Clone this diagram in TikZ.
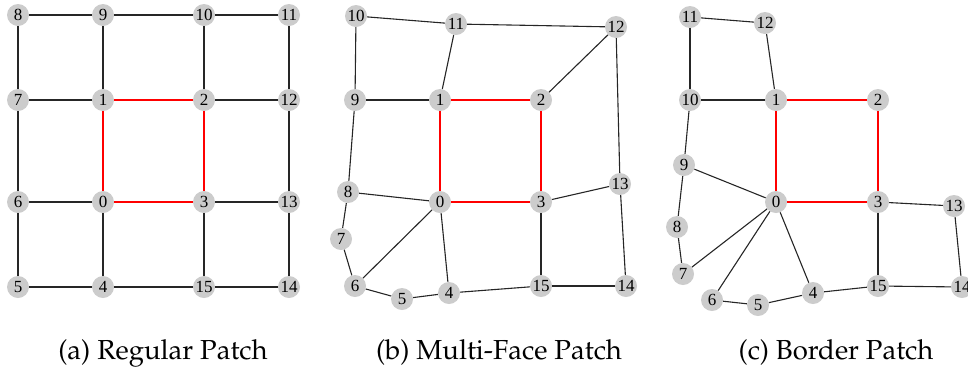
\documentclass[tikz,border=0pt]{standalone}
\usepackage[T1]{fontenc}
\usepackage{fontspec}
\newfontfamily\numfont{Liberation Serif}
\tikzset{
  vtx/.style={circle, fill={rgb,255:red,204;green,204;blue,204}, minimum size=22pt,
              inner sep=0pt, font=\numfont\fontsize{17}{17}\selectfont},
  edge/.style={line width=1.1pt, black!85},
  redge/.style={line width=2pt, red},
  subcap/.style={anchor=base, inner sep=0pt,
                 font=\fontencoding{T1}\fontfamily{ppl}\fontsize{27.5}{30}\selectfont}
}
\begin{document}
\begin{tikzpicture}[x=1pt, y=-1pt]
\useasboundingbox (0,0) rectangle (968,368);

% ---------- (a) regular patch ----------
\node[vtx] (a8)  at (18,15)  {8};
\node[vtx] (a9)  at (103,15) {9};
\node[vtx] (a10) at (204,15) {10};
\node[vtx] (a11) at (289,15) {11};
\node[vtx] (a7)  at (18,100)  {7};
\node[vtx] (a1)  at (103,100) {1};
\node[vtx] (a2)  at (204,100) {2};
\node[vtx] (a12) at (289,100) {12};
\node[vtx] (a6)  at (18,202)  {6};
\node[vtx] (a0)  at (103,202) {0};
\node[vtx] (a3)  at (204,202) {3};
\node[vtx] (a13) at (289,202) {13};
\node[vtx] (a5)  at (18,287)  {5};
\node[vtx] (a4)  at (103,287) {4};
\node[vtx] (a15) at (204,287) {15};
\node[vtx] (a14) at (289,287) {14};
\foreach \u/\v in {a8/a9,a9/a10,a10/a11,a8/a7,a9/a1,a10/a2,a11/a12,
                   a7/a1,a2/a12,a7/a6,a12/a13,a6/a0,a3/a13,
                   a6/a5,a0/a4,a3/a15,a13/a14,a5/a4,a4/a15,a15/a14}
  \draw[edge] (\u) -- (\v);
\foreach \u/\v in {a1/a2,a1/a0,a2/a3,a0/a3}
  \draw[redge] (\u) -- (\v);

% ---------- (b) multi-face patch ----------
\node[vtx] (b10) at (356,16)  {10};
\node[vtx] (b11) at (456,24)  {11};
\node[vtx] (b12) at (616,27)  {12};
\node[vtx] (b9)  at (355,100) {9};
\node[vtx] (b1)  at (440,100) {1};
\node[vtx] (b2)  at (541,100) {2};
\node[vtx] (b8)  at (348,192) {8};
\node[vtx] (b0)  at (440,202) {0};
\node[vtx] (b3)  at (541,202) {3};
\node[vtx] (b13) at (620,184) {13};
\node[vtx] (b7)  at (341,239) {7};
\node[vtx] (b6)  at (355,286) {6};
\node[vtx] (b5)  at (402,299) {5};
\node[vtx] (b4)  at (449,293) {4};
\node[vtx] (b15) at (541,286) {15};
\node[vtx] (b14) at (626,286) {14};
\foreach \u/\v in {b10/b11,b11/b12,b10/b9,b11/b1,b12/b2,b12/b13,b9/b1,b9/b8,
                   b8/b0,b8/b7,b7/b6,b6/b0,b6/b5,b5/b4,b4/b0,b4/b15,
                   b3/b13,b3/b15,b15/b14,b13/b14}
  \draw[edge] (\u) -- (\v);
\foreach \u/\v in {b1/b2,b1/b0,b2/b3,b0/b3}
  \draw[redge] (\u) -- (\v);

% ---------- (c) border patch ----------
\node[vtx] (c11) at (690,17)  {11};
\node[vtx] (c12) at (765,23)  {12};
\node[vtx] (c10) at (690,100) {10};
\node[vtx] (c1)  at (776,100) {1};
\node[vtx] (c2)  at (878,100) {2};
\node[vtx] (c9)  at (684,165) {9};
\node[vtx] (c0)  at (776,202) {0};
\node[vtx] (c3)  at (878,202) {3};
\node[vtx] (c13) at (954,206) {13};
\node[vtx] (c8)  at (677,227) {8};
\node[vtx] (c7)  at (683,274) {7};
\node[vtx] (c6)  at (712,300) {6};
\node[vtx] (c5)  at (758,305) {5};
\node[vtx] (c4)  at (813,293) {4};
\node[vtx] (c15) at (878,286) {15};
\node[vtx] (c14) at (962,287) {14};
\foreach \u/\v in {c11/c12,c11/c10,c12/c1,c10/c1,c10/c9,c9/c0,c9/c8,c8/c7,
                   c7/c0,c6/c0,c4/c0,c6/c5,c5/c4,c4/c15,
                   c3/c13,c3/c15,c13/c14,c15/c14}
  \draw[edge] (\u) -- (\v);
\foreach \u/\v in {c1/c2,c1/c0,c2/c3,c0/c3}
  \draw[redge] (\u) -- (\v);

% ---------- sub-captions ----------
\node[subcap] (capa) at (163,359) {(a) Regular Patch};
\node[subcap] (capb) at (499,359) {(b) Multi-Face Patch};
\node[subcap] (capc) at (836,359) {(c) Border Patch};
\end{tikzpicture}
\end{document}
